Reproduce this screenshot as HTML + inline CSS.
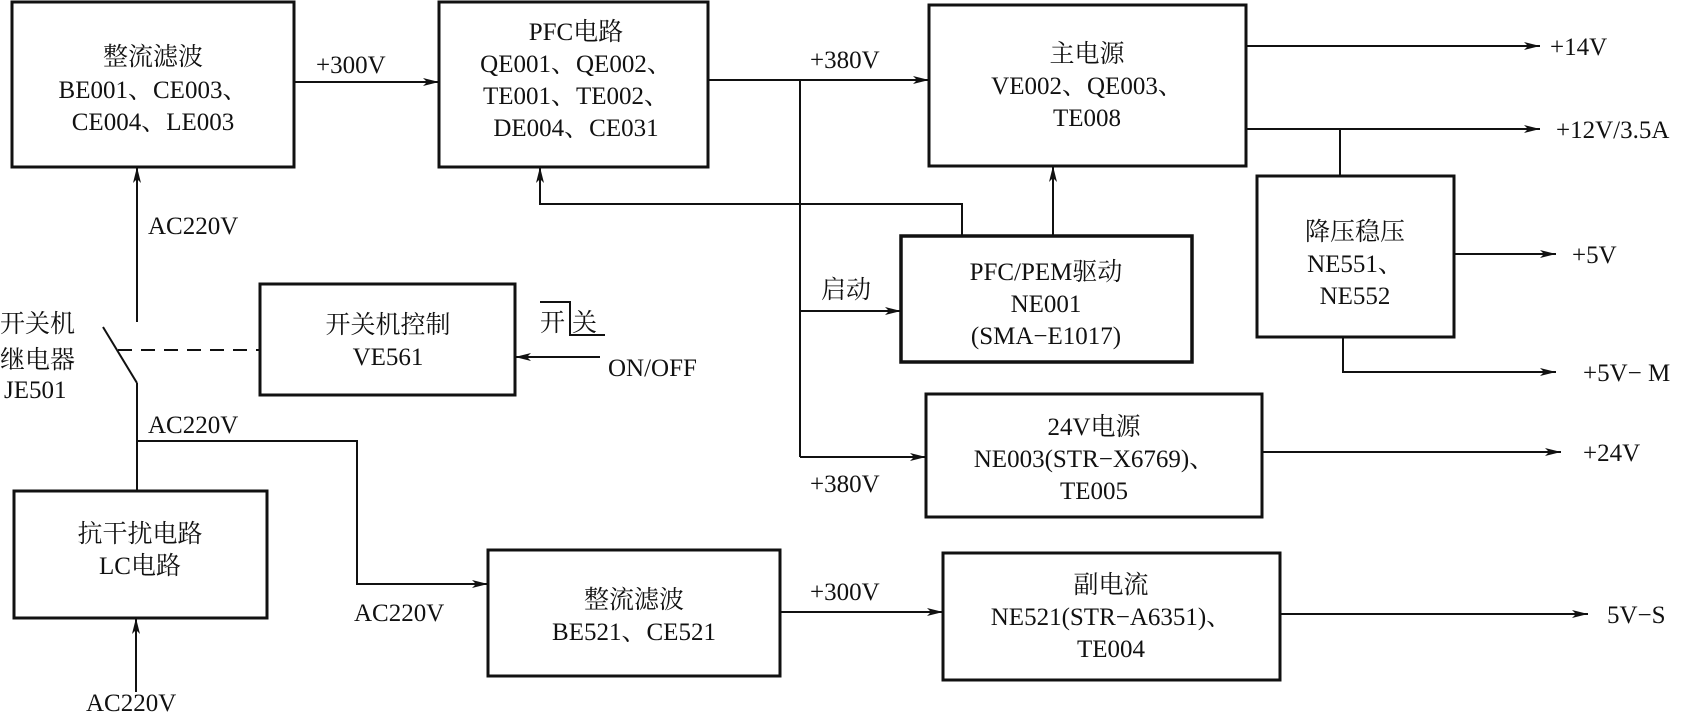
<!DOCTYPE html>
<html><head><meta charset="utf-8"><style>
html,body{margin:0;padding:0;background:#fff;}
svg{display:block}
text{font-family:"Liberation Serif","Noto Serif CJK SC","Noto Sans CJK SC",serif;font-size:25px;fill:#111;}
.c{text-anchor:middle}
</style></head><body>
<svg width="1694" height="714" viewBox="0 0 1694 714" xmlns="http://www.w3.org/2000/svg">
<defs>
<marker id="a" viewBox="0 0 16 8" refX="16" refY="4" markerWidth="16" markerHeight="8" markerUnits="userSpaceOnUse" orient="auto">
<path d="M0,0 L16,4 L0,8 L4,4 Z" fill="#111"/></marker>
</defs>
<g fill="none" stroke="#111" stroke-width="3">
<rect x="12" y="2" width="282" height="165"/>
<rect x="439" y="2" width="269" height="165"/>
<rect x="929" y="5" width="317" height="161"/>
<rect x="901" y="236" width="291" height="126" stroke-width="3.5"/>
<rect x="1257" y="176" width="197" height="161"/>
<rect x="260" y="284" width="255" height="111"/>
<rect x="926" y="394" width="336" height="123"/>
<rect x="14" y="491" width="253" height="127"/>
<rect x="488" y="550" width="292" height="126"/>
<rect x="943" y="553" width="337" height="127"/>
</g>
<g fill="none" stroke="#111" stroke-width="2">
<line x1="294" y1="82" x2="439" y2="82" marker-end="url(#a)"/>
<line x1="708" y1="80" x2="929" y2="80" marker-end="url(#a)"/>
<line x1="800" y1="80" x2="800" y2="457"/>
<line x1="800" y1="311" x2="901" y2="311" marker-end="url(#a)"/>
<line x1="800" y1="457" x2="926" y2="457" marker-end="url(#a)"/>
<polyline points="962,236 962,204 540,204 540,167" marker-end="url(#a)"/>
<line x1="1053" y1="236" x2="1053" y2="166" marker-end="url(#a)"/>
<line x1="1246" y1="46" x2="1540" y2="46" marker-end="url(#a)"/>
<line x1="1246" y1="129" x2="1540" y2="129" marker-end="url(#a)"/>
<line x1="1340" y1="129" x2="1340" y2="176"/>
<line x1="1454" y1="254" x2="1556" y2="254" marker-end="url(#a)"/>
<polyline points="1343,337 1343,372 1556,372" marker-end="url(#a)"/>
<line x1="1262" y1="452" x2="1561" y2="452" marker-end="url(#a)"/>
<line x1="1280" y1="614" x2="1588" y2="614" marker-end="url(#a)"/>
<line x1="780" y1="612" x2="943" y2="612" marker-end="url(#a)"/>
<line x1="136" y1="692" x2="136" y2="618" marker-end="url(#a)"/>
<line x1="137" y1="491" x2="137" y2="383"/>
<polyline points="137,441 357,441 357,584 488,584" marker-end="url(#a)"/>
<line x1="103" y1="327" x2="137" y2="383"/>
<line x1="137" y1="322" x2="137" y2="167" marker-end="url(#a)"/>
<line x1="118" y1="350" x2="260" y2="350" stroke-dasharray="14,9"/>
<line x1="600" y1="357" x2="515" y2="357" marker-end="url(#a)"/>
<polyline points="540,302 570,302 570,335 605,335"/>
</g>
<text class="c" x="153" y="65">整流滤波</text>
<text class="c" x="153" y="98">BE001、CE003、</text>
<text class="c" x="153" y="130">CE004、LE003</text>
<text class="c" x="576" y="40">PFC电路</text>
<text class="c" x="576" y="72">QE001、QE002、</text>
<text class="c" x="576" y="104">TE001、TE002、</text>
<text class="c" x="576" y="136">DE004、CE031</text>
<text class="c" x="1087" y="62">主电源</text>
<text class="c" x="1087" y="94">VE002、QE003、</text>
<text class="c" x="1087" y="126">TE008</text>
<text class="c" x="1046" y="280">PFC/PEM驱动</text>
<text class="c" x="1046" y="312">NE001</text>
<text class="c" x="1046" y="344">(SMA−E1017)</text>
<text class="c" x="1355" y="240">降压稳压</text>
<text class="c" x="1355" y="272">NE551、</text>
<text class="c" x="1355" y="304">NE552</text>
<text class="c" x="388" y="333">开关机控制</text>
<text class="c" x="388" y="365">VE561</text>
<text class="c" x="1094" y="435">24V电源</text>
<text class="c" x="1094" y="467">NE003(STR−X6769)、</text>
<text class="c" x="1094" y="499">TE005</text>
<text class="c" x="140" y="542">抗干扰电路</text>
<text class="c" x="140" y="574">LC电路</text>
<text class="c" x="634" y="608">整流滤波</text>
<text class="c" x="634" y="640">BE521、CE521</text>
<text class="c" x="1111" y="593">副电流</text>
<text class="c" x="1111" y="625">NE521(STR−A6351)、</text>
<text class="c" x="1111" y="657">TE004</text>
<text x="316" y="73">+300V</text>
<text x="810" y="68">+380V</text>
<text x="821" y="298">启动</text>
<text x="810" y="492">+380V</text>
<text x="810" y="600">+300V</text>
<text x="1550" y="55">+14V</text>
<text x="1556" y="138">+12V/3.5A</text>
<text x="1572" y="263">+5V</text>
<text x="1583" y="381">+5V− M</text>
<text x="1583" y="461">+24V</text>
<text x="1607" y="623">5V−S</text>
<text x="148" y="234">AC220V</text>
<text x="148" y="433">AC220V</text>
<text x="354" y="621">AC220V</text>
<text x="86" y="711">AC220V</text>
<text x="0" y="332">开关机</text>
<text x="0" y="368">继电器</text>
<text x="4" y="398">JE501</text>
<text x="540" y="331">开</text>
<text x="572" y="331">关</text>
<text x="608" y="376">ON/OFF</text>
</svg>
</body></html>
